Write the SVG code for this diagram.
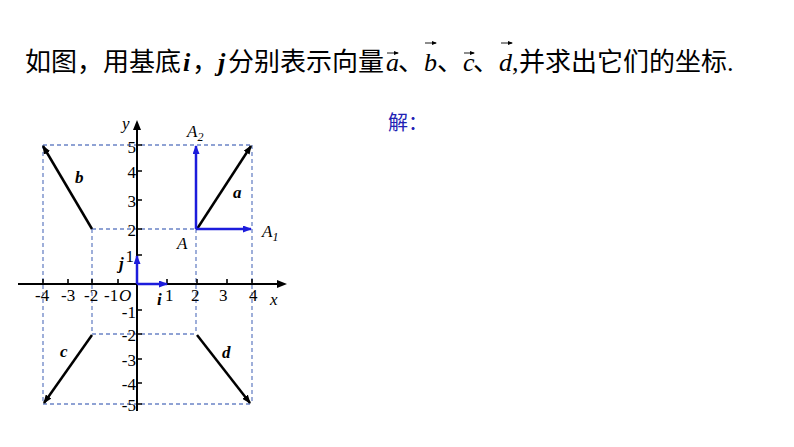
<svg xmlns="http://www.w3.org/2000/svg" width="794" height="447" viewBox="0 0 794 447">
<defs>
<marker id="ak" markerUnits="userSpaceOnUse" markerWidth="9" markerHeight="7" refX="8" refY="3.5" orient="auto"><path d="M0,0 L9,3.5 L0,7 Z" fill="#000"/></marker>
<marker id="ab" markerUnits="userSpaceOnUse" markerWidth="9" markerHeight="7" refX="8" refY="3.5" orient="auto"><path d="M0,0 L9,3.5 L0,7 Z" fill="#1c1cdc"/></marker>
<marker id="at" markerUnits="userSpaceOnUse" markerWidth="5" markerHeight="4" refX="4" refY="2" orient="auto"><path d="M0,0 L5,2 L0,4 Z" fill="#000"/></marker>
<style>
.t{font-family:"Liberation Serif","Noto Sans CJK SC",serif;fill:#000}
.n{font-family:"Liberation Serif",serif;font-size:17px;fill:#000}
.it{font-style:italic}
.bi{font-style:italic;font-weight:bold}
.ax{stroke:#000;stroke-width:2;fill:none}
.tk{stroke:#000;stroke-width:1.6}
.ds{stroke:#6b84c6;stroke-width:1.3;stroke-dasharray:4,3;fill:none}
.vk{stroke:#000;stroke-width:2.5;marker-end:url(#ak)}
.vb{stroke:#1c1cdc;stroke-width:2.5;marker-end:url(#ab)}
.va{stroke:#000;stroke-width:0.9;marker-end:url(#at)}
</style>
</defs>
<g id="title" class="t" font-size="26">
<text x="25" y="71">如图，用基底</text>
<text x="183" y="71" class="bi">i</text>
<text x="192" y="71">，</text>
<text x="218" y="71" class="bi">j</text>
<text x="228" y="71">分别表示向量</text>
<text x="386" y="71" class="it">a</text>
<text x="398" y="71">、</text>
<text x="424" y="71" class="it">b</text>
<text x="437" y="71">、</text>
<text x="463" y="71" class="it">c</text>
<text x="473" y="71">、</text>
<text x="499" y="71" class="it">d</text>
<text x="512" y="71">,</text>
<text x="519" y="71">并求出它们的坐标.</text>
<line class="va" x1="387" y1="53" x2="398" y2="53"/>
<line class="va" x1="425" y1="43" x2="436" y2="43"/>
<line class="va" x1="464" y1="53" x2="474" y2="53"/>
<line class="va" x1="501" y1="43" x2="512" y2="43"/>
</g>
<g id="answer"><text x="388" y="130" font-family="Noto Sans CJK SC, sans-serif" font-size="20" fill="#2222b4">解：</text></g>
<g id="grid">
<path class="ds" d="M43,145 H252 M43,404 H252 M43,145 V404 M252,145 V404 M92,229 H196 M92,334 H196 M92,229 V334 M196,229 V334"/>
</g>
<g id="axes">
<line class="ax" x1="18" y1="284" x2="280" y2="284"/>
<path d="M287,284 L277,280 L277,288 Z"/>
<line class="ax" x1="137" y1="411" x2="137" y2="127"/>
<path d="M137,120 L133,130 L141,130 Z"/>
<path class="tk" d="M43,284 V279 M68,284 V279 M92,284 V279 M118,284 V279 M167,284 V279 M197,284 V279 M227,284 V279 M252,284 V279 M137,145 H142 M137,171 H142 M137,200 H142 M137,229 H142 M137,255 H142 M137,310 H142 M137,334 H142 M137,359 H142 M137,383 H142 M137,404 H142"/>
</g>
<g id="labels" class="n">
<text x="122" y="129" class="it">y</text>
<text x="270" y="305" class="it">x</text>
<text x="35" y="301">-4</text>
<text x="61" y="301">-3</text>
<text x="84" y="301">-2</text>
<text x="104" y="301">-1</text>
<text x="119" y="301" class="it">O</text>
<text x="165" y="301">1</text>
<text x="191" y="301">2</text>
<text x="219" y="301">3</text>
<text x="249" y="301">4</text>
<g text-anchor="end">
<text x="136" y="153">5</text>
<text x="136" y="178">4</text>
<text x="136" y="207">3</text>
<text x="136" y="236">2</text>
<text x="134" y="262">1</text>
<text x="136" y="318">-1</text>
<text x="136" y="341">-2</text>
<text x="136" y="366">-3</text>
<text x="136" y="390">-4</text>
<text x="136" y="411">-5</text>
</g>
<text x="177" y="249" class="it">A</text>
<text x="262" y="237" class="it">A<tspan font-size="12" dy="4">1</tspan></text>
<text x="187" y="137" class="it">A<tspan font-size="12" dy="4">2</tspan></text>
<text x="233" y="198" class="bi">a</text>
<text x="75" y="183" class="bi">b</text>
<text x="60" y="357" class="bi">c</text>
<text x="222" y="358" class="bi">d</text>
<text x="119" y="269" class="bi">j</text>
<text x="157" y="305" class="bi">i</text>
</g>
<g id="connectors">
<line class="vk" x1="197" y1="229" x2="251" y2="146"/>
<line class="vk" x1="92" y1="229" x2="43" y2="146"/>
<line class="vk" x1="92" y1="335" x2="44" y2="403"/>
<line class="vk" x1="197" y1="335" x2="250" y2="403"/>
<line class="vb" x1="196" y1="229" x2="196" y2="146"/>
<line class="vb" x1="196" y1="229" x2="251" y2="229"/>
<line class="vb" x1="137" y1="284" x2="167" y2="284"/>
<line class="vb" x1="137" y1="284" x2="137" y2="256"/>
</g>
</svg>
